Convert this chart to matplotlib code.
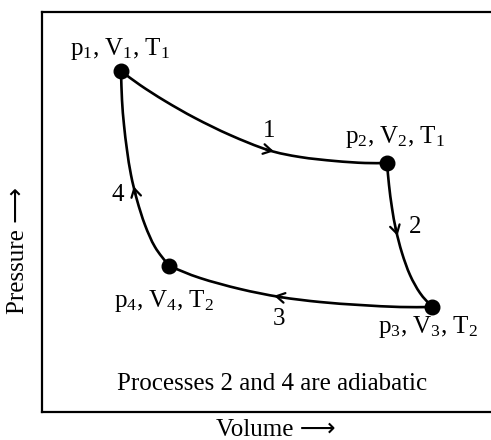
import matplotlib
matplotlib.use("Agg")
import matplotlib.pyplot as plt
from matplotlib.path import Path
from matplotlib.patches import PathPatch
import numpy as np

plt.rcParams['font.family'] = ['Liberation Serif', 'DejaVu Sans']
plt.rcParams['mathtext.fontset'] = 'custom'
plt.rcParams['mathtext.rm'] = 'Liberation Serif'
plt.rcParams['mathtext.it'] = 'Liberation Serif'
plt.rcParams['mathtext.default'] = 'rm'

# State points (volume, pressure) in arbitrary diagram units
state_labels = ["p$_1$, V$_1$, T$_1$", "p$_2$, V$_2$, T$_1$",
                "p$_3$, V$_3$, T$_2$", "p$_4$, V$_4$, T$_2$"]
state_V = [79, 345, 390, 127]
state_p = [341, 249, 105, 146]

# Process curves (volume, pressure)
proc1_V = [79, 98, 123, 153, 188, 226, 258, 293, 323, 345]
proc1_p = [341, 327, 311, 294, 277, 262, 255, 251, 249, 249]
proc2_V = [345, 347, 350, 354, 360, 368, 378, 390]
proc2_p = [249, 227, 204, 182, 159, 137, 119, 105]
proc3_V = [390, 358, 318, 278, 238, 198, 158, 127]
proc3_p = [105, 105, 107, 110, 115, 123, 134, 146]
proc4_V = [127, 113, 103, 95, 89, 85, 82, 80, 79]
proc4_p = [146, 165, 187, 212, 237, 262, 287, 312, 341]
proc_labels = ["1", "2", "3", "4"]

FS = 18

fig = plt.figure(figsize=(4.91, 4.40), dpi=100)
ax = fig.add_axes([42/491, 28/440, 449/491, 400/440])
ax.set_xlim(0, 449)
ax.set_ylim(0, 400)
ax.set_xticks([])
ax.set_yticks([])
ax.spines['right'].set_visible(False)
for s in ['left', 'top', 'bottom']:
    ax.spines[s].set_linewidth(1.6)


def smooth_path(V, p):
    pts = np.column_stack([V, p]).astype(float)
    ext = np.vstack([2*pts[0] - pts[1], pts, 2*pts[-1] - pts[-2]])
    verts = [tuple(pts[0])]
    codes = [Path.MOVETO]
    for i in range(1, len(ext) - 2):
        p0, p1, p2, p3 = ext[i-1], ext[i], ext[i+1], ext[i+2]
        c1 = p1 + (p2 - p0) / 6.0
        c2 = p2 - (p3 - p1) / 6.0
        verts += [tuple(c1), tuple(c2), tuple(p2)]
        codes += [Path.CURVE4] * 3
    return Path(verts, codes)


procs = [(proc1_V, proc1_p), (proc2_V, proc2_p), (proc3_V, proc3_p), (proc4_V, proc4_p)]
arrow_idx = [5, 3, 4, 3]
arrow_shift = [0, 0, 0, 8]
for (V, p), k, sh in zip(procs, arrow_idx, arrow_shift):
    ax.add_patch(PathPatch(smooth_path(V, p), fill=False, edgecolor='black',
                           lw=1.9, capstyle='round'))
    x0, y0 = V[k], p[k]
    x1, y1 = V[k+1], p[k+1]
    dx, dy = x1 - x0, y1 - y0
    n = np.hypot(dx, dy)
    ux, uy = dx/n, dy/n
    ax.annotate('', xy=(x0 + ux*(6+sh), y0 + uy*(6+sh)),
                xytext=(x0 + ux*(sh-2), y0 + uy*(sh-2)),
                arrowprops=dict(arrowstyle='->,head_length=0.6,head_width=0.35',
                                color='black', lw=1.6, shrinkA=0, shrinkB=0))

ax.scatter(state_V, state_p, s=110, color='black', zorder=5)

label_pos = [(78, 357), (353, 269), (386, 79), (122, 105)]
for lab, (x, y) in zip(state_labels, label_pos):
    ax.text(x, y, lab, ha='center', va='baseline', fontsize=FS)

num_pos = [(227, 281), (373, 185), (237, 93), (76, 217)]
for lab, (x, y) in zip(proc_labels, num_pos):
    ax.text(x, y, lab, ha='center', va='center', fontsize=FS)

ax.text(230, 28, "Processes 2 and 4 are adiabatic", ha='center', va='center', fontsize=FS)

fig.text(276/491, 1 - 430/440, "Volume \u27f6", ha='center', va='center', fontsize=FS)
fig.text(18/491, 1 - 250/440, "Pressure \u27f6", ha='center', va='center', fontsize=FS, rotation=90)

fig.savefig("out.png", dpi=100)
